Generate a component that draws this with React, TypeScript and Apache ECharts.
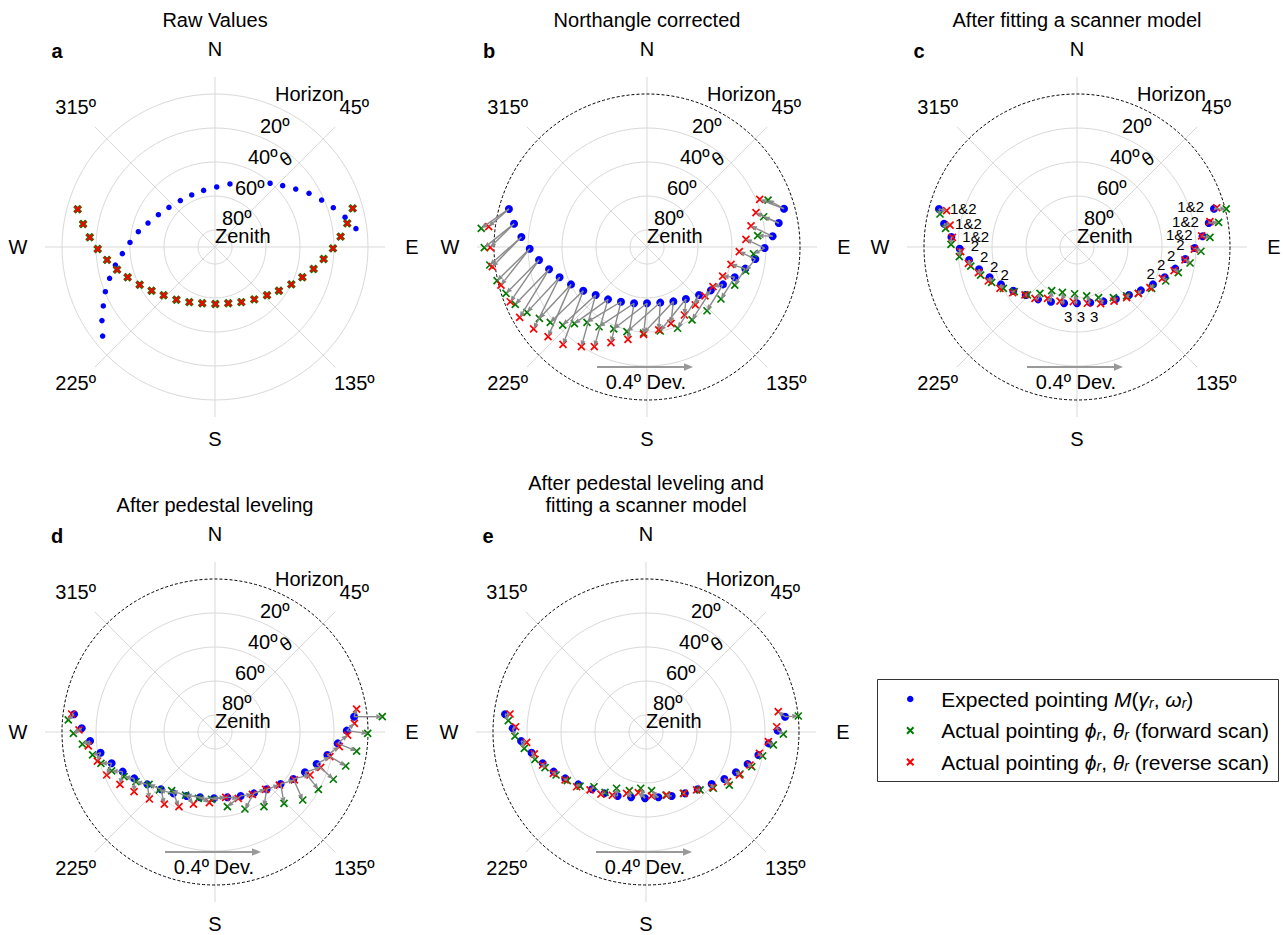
import React, { useEffect, useRef } from 'react';
import * as echarts from 'echarts';

// ---------------- DATA (projected zenith-angle components, degrees: [east, north]) ----------------
// Panel a – raw values
const rawExpected = [[-66.1,-52.4],[-66.5,-43.3],[-65.7,-34.7],[-64.5,-26.3],[-62.0,-18.4],[-58.6,-10.6],[-54.5,-3.9],[-50.0,2.7],[-45.1,9.0],[-39.4,14.1],[-33.3,19.0],[-27.1,23.3],[-20.4,27.3],[-13.7,30.6],[-6.7,33.3],[1.0,35.3],[8.8,37.1],[32.4,37.5],[39.8,36.1],[47.5,34.1],[55.3,31.6],[62.7,27.6],[69.6,23.1],[76.5,17.5],[82.9,10.8]];
const rawActual = [[-80.8,22.2],[-77.6,13.5],[-73.7,5.7],[-69.0,-1.2],[-63.5,-7.6],[-57.6,-13.3],[-51.4,-17.8],[-44.3,-22.2],[-37.3,-25.7],[-30.2,-28.4],[-22.7,-31.0],[-15.1,-32.4],[-7.5,-33.1],[0.2,-33.5],[7.8,-33.1],[15.5,-32.4],[23.1,-30.8],[30.6,-28.4],[37.6,-25.7],[44.9,-22.0],[51.4,-17.8],[58.0,-12.9],[63.9,-7.1],[69.4,-0.8],[73.9,6.1],[77.8,13.9],[81.0,22.7]];

// Panels b & c – expected pointing (north angle corrected)
const expectedB = [[-81.2,22.4],[-78.2,13.7],[-73.9,5.9],[-69.0,-1.0],[-63.5,-7.6],[-57.6,-13.1],[-51.4,-17.8],[-44.7,-22.0],[-37.5,-25.7],[-30.2,-28.2],[-22.9,-30.8],[-15.3,-32.2],[-7.6,-33.1],[0,-33.1],[7.8,-32.7],[15.5,-32.0],[22.9,-30.6],[30.6,-28.2],[37.6,-25.5],[44.7,-22.0],[51.6,-17.8],[57.8,-12.7],[63.7,-7.1],[69.2,-0.6],[73.9,6.3],[77.5,14.1],[80.6,22.5]];
const forwardB = [[-97.5,11.0],[-95.7,-0.4],[-92.5,-10.6],[-88.2,-19.8],[-82.9,-27.3],[-77.5,-33.7],[-70.6,-38.4],[-63.3,-42.0],[-56.9,-44.3],[-49.6,-45.9],[-42.7,-45.1],[-35.3,-44.3],[-28.2,-46.9],[-19.6,-48.2],[-11.8,-49.8],[-2.0,-50.6],[7.8,-49.4],[18.0,-47.8],[26.5,-42.9],[35.3,-37.5],[43.5,-30.6],[51.6,-22.4],[58.0,-14.1],[62.7,-4.1],[65.1,6.7],[68.6,17.8],[71.2,27.6]];
const reverseB = [[-93.1,12.0],[-92.2,-0.2],[-91.0,-11.6],[-85.9,-22.4],[-80.4,-32.2],[-74.9,-41.4],[-66.7,-48.2],[-58.2,-52.7],[-49.4,-57.3],[-38.6,-58.6],[-31.0,-58.6],[-21.2,-56.3],[-11.2,-54.3],[-2.0,-51.4],[6.9,-48.8],[14.1,-44.9],[22.0,-40.0],[28.4,-34.1],[34.1,-28.8],[38.8,-23.3],[44.5,-17.1],[49.4,-10.2],[54.3,-2.7],[58.2,4.5],[61.2,12.4],[64.1,20.2],[66.3,28.0]];
const forwardC = [[-80.6,19.4],[-77.3,11.0],[-74.1,1.6],[-69.2,-5.7],[-62.5,-11.2],[-56.7,-16.5],[-50.2,-20.8],[-43.3,-24.3],[-36.9,-26.3],[-29.2,-28.2],[-21.8,-27.3],[-14.9,-25.7],[-8.6,-26.7],[-1.4,-27.5],[5.7,-28.8],[12.7,-29.8],[21.4,-29.8],[29.2,-28.8],[36.1,-27.3],[43.9,-24.3],[52.2,-20.0],[59.6,-15.1],[66.5,-9.4],[72.9,-2.5],[78.2,5.7],[83.3,14.5],[87.8,22.4]];
const reverseC = [[-76.7,21.4],[-74.7,12.9],[-73.3,5.7],[-68.4,-2.7],[-63.9,-9.6],[-58.0,-15.1],[-52.2,-20.0],[-45.3,-24.3],[-37.8,-26.9],[-30.6,-28.2],[-24.7,-30.2],[-17.3,-30.2],[-10.0,-31.8],[-2.2,-32.2],[6.1,-33.1],[13.9,-33.3],[21.8,-31.8],[29.2,-29.8],[36.1,-27.3],[42.9,-23.9],[50.2,-18.4],[57.1,-13.9],[63.5,-7.6],[69.0,-1.2],[73.3,6.5],[78.2,14.9],[82.2,23.1]];
const annotationsC = ['1&2','1&2','1&2','2','2','2','2','','','','','','3','3','3','','','','','','2','2','2','2','1&2','1&2','1&2'];

// Panels d & e – after pedestal leveling
const expectedD = [[-82.9,10.4],[-78.4,2.2],[-73.5,-5.3],[-67.3,-12.2],[-60.8,-18.4],[-54.3,-23.3],[-47.5,-27.3],[-39.8,-30.8],[-31.8,-33.7],[-24.5,-36.1],[-16.7,-37.6],[-8.8,-38.4],[-0.6,-39.0],[7.3,-38.4],[15.1,-37.6],[22.9,-36.1],[30.4,-33.7],[38.6,-30.6],[46.1,-27.6],[52.9,-23.7],[59.8,-18.8],[66.1,-13.5],[72.2,-6.7],[77.5,0.8],[81.8,9.0]];
const forwardD = [[-86.3,7.1],[-83.3,-0.8],[-78.0,-7.1],[-72.0,-13.5],[-67.1,-18.4],[-60.8,-22.9],[-53.5,-26.3],[-46.5,-29.2],[-38.8,-30.8],[-32.7,-34.1],[-25.5,-34.5],[-17.3,-37.1],[-9.8,-39.0],[-2.0,-39.6],[7.3,-43.9],[17.6,-45.3],[28.8,-43.9],[40.6,-42.0],[51.6,-40.0],[60.8,-33.7],[69.6,-27.8],[76.9,-20.0],[83.3,-11.2],[89.8,-0.8],[98.4,9.0]];
const reverseD = [[-84.3,10.6],[-80.0,1.2],[-74.5,-8.2],[-69.2,-17.1],[-63.7,-25.3],[-55.9,-30.8],[-47.6,-35.1],[-38.6,-39.4],[-29.8,-42.4],[-21.2,-43.9],[-12.7,-42.4],[-3.3,-41.6],[6.3,-38.4],[13.7,-39.0],[22.0,-36.7],[29.8,-33.7],[37.8,-31.2],[46.7,-28.2],[55.9,-25.3],[62.2,-20.8],[67.6,-14.5],[73.1,-8.6],[78.0,-1.8],[82.0,5.1],[83.3,13.5]];
const forwardE = [[-81.0,6.7],[-77.1,-2.4],[-71.6,-9.6],[-65.3,-16.1],[-59.4,-21.0],[-52.9,-25.3],[-46.3,-28.6],[-38.8,-31.8],[-30.6,-32.2],[-24.1,-35.5],[-17.3,-33.1],[-9.8,-34.5],[-3.1,-33.1],[3.3,-34.5],[11.8,-37.1],[22.0,-36.1],[31.8,-34.1],[39.6,-33.1],[49.0,-31.2],[55.3,-24.7],[62.2,-20.4],[68.6,-14.1],[74.9,-7.6],[80.8,-1.2],[89.6,9.4]];
const reverseE = [[-80.0,10.6],[-76.7,3.1],[-70.2,-6.1],[-65.7,-12.9],[-60.8,-19.4],[-54.5,-24.3],[-47.6,-28.2],[-40.8,-32.2],[-32.9,-34.1],[-26.5,-36.5],[-19.8,-37.1],[-11.4,-36.1],[-4.5,-35.7],[3.3,-37.6],[12.2,-37.1],[22.4,-36.1],[29.8,-34.1],[39.2,-32.5],[48.0,-29.2],[54.9,-25.3],[61.2,-19.4],[66.7,-12.5],[72.0,-5.7],[76.9,3.1],[77.8,12.0]];

// Texts
const PANEL_TITLES = [['Raw Values'], ['Northangle corrected'], ['After fitting a scanner model'], ['After pedestal leveling'], ['After pedestal leveling and', 'fitting a scanner model']];
const PANEL_LETTERS = ['a', 'b', 'c', 'd', 'e'];
const COMPASS_LABELS = ['N', '45º', 'E', '135º', 'S', '225º', 'W', '315º'];
const COMPASS_ANGLES = [0, 45, 90, 135, 180, 225, 270, 315];
const RING_LABELS = ['Horizon', '20º', '40º', '60º', '80º', 'Zenith'];
const SCALE_LABEL = '0.4º Dev.';
const LEGEND_NAMES = ['Expected pointing M(γr, ωr)', 'Actual pointing ϕr, θr (forward scan)', 'Actual pointing ϕr, θr (reverse scan)'];
const LEGEND_RICH = [
  'Expected pointing {i|M}({i|γ}{s|r}, {i|ω}{s|r})',
  'Actual pointing {i|ϕ}{s|r}, {i|θ}{s|r} (forward scan)',
  'Actual pointing {i|ϕ}{s|r}, {i|θ}{s|r} (reverse scan)',
];

// ---------------- LAYOUT / STYLE ----------------
const FONT = '"Liberation Sans", Arial, Helvetica, "DejaVu Sans", sans-serif';
const BLUE = '#0000ff';
const GREEN = '#007a00';
const RED = '#ff0000';
const GRID = '#d9d9d9';
const ARROW = '#8a8a8a';
const R_PX = 170;
const ZA_MAX = 100;
const HORIZON_ZA = 90;
const CENTERS = [[215, 247], [647, 247], [1077, 247], [215, 732], [646, 732]];
const RING_LABEL_POS = [[60, -153.5], [45, -121], [33, -90], [20, -59], [7, -29], [0, -11]];
const XPATH = 'path://M0,0L10,10M10,0L0,10';

const PANELS = [
  { expected: rawExpected, forward: rawActual, reverse: rawActual, raw: true },
  { expected: expectedB, forward: forwardB, reverse: reverseB, raw: false },
  { expected: expectedB, forward: forwardC, reverse: reverseC, raw: false, notes: annotationsC },
  { expected: expectedD, forward: forwardD, reverse: reverseD, raw: false },
  { expected: expectedD, forward: forwardE, reverse: reverseE, raw: false },
];

const toPolar = (p: number[]) => {
  const r = Math.hypot(p[0], p[1]);
  let a = (Math.atan2(p[0], p[1]) * 180) / Math.PI;
  if (a < 0) a += 360;
  return [r, a];
};

const ringColors = (hideHorizon: boolean) =>
  Array.from({ length: 11 }, (_, k) => (k % 2 === 1 && !(hideHorizon && k === 9) ? GRID : 'rgba(0,0,0,0)'));

function arrowItem(params: any, api: any) {
  const p1 = api.coord([api.value(0), api.value(1)]);
  const p2 = api.coord([api.value(2), api.value(3)]);
  const dx = p2[0] - p1[0];
  const dy = p2[1] - p1[1];
  const len = Math.hypot(dx, dy);
  if (len < 0.5) return null;
  const ux = dx / len;
  const uy = dy / len;
  const hl = Math.min(6, len * 0.6);
  const hw = 2.5;
  const bx = p2[0] - ux * hl;
  const by = p2[1] - uy * hl;
  return {
    type: 'group',
    children: [
      { type: 'line', shape: { x1: p1[0], y1: p1[1], x2: bx, y2: by }, style: { stroke: ARROW, lineWidth: 1.4 } },
      { type: 'polygon', shape: { points: [[p2[0], p2[1]], [bx - uy * hw, by + ux * hw], [bx + uy * hw, by - ux * hw]] }, style: { fill: ARROW } },
    ],
  };
}

function buildOption() {
  const polar = CENTERS.map((c) => ({ center: c, radius: R_PX }));
  const angleAxis = CENTERS.map((_, i) => ({
    polarIndex: i, type: 'value', min: 0, max: 360, interval: 45, startAngle: 90, clockwise: true,
    axisLine: { show: false }, axisTick: { show: false }, axisLabel: { show: false },
    splitLine: { show: true, lineStyle: { color: GRID, width: 1 } },
  }));
  const radiusAxis = PANELS.map((p, i) => ({
    polarIndex: i, type: 'value', min: 0, max: ZA_MAX, interval: 10,
    axisLine: { show: false }, axisTick: { show: false }, axisLabel: { show: false },
    splitLine: { show: true, lineStyle: { color: ringColors(!p.raw), width: 1 } },
  }));

  const series: any[] = [];
  PANELS.forEach((p, i) => {
    series.push({
      type: 'scatter', name: LEGEND_NAMES[0], coordinateSystem: 'polar', polarIndex: i, silent: true, z: 2,
      symbol: 'circle', symbolSize: p.raw ? 5.5 : 8, itemStyle: { color: BLUE, opacity: 1 },
      data: p.expected.map(toPolar),
    });
    series.push({
      type: 'scatter', name: LEGEND_NAMES[1], coordinateSystem: 'polar', polarIndex: i, silent: true, z: 3,
      symbol: XPATH, symbolSize: p.raw ? 6.5 : 7,
      itemStyle: { color: GREEN, borderColor: GREEN, borderWidth: p.raw ? 3.4 : 1.7, opacity: 1 },
      data: p.forward.map(toPolar),
    });
    series.push({
      type: 'scatter', name: LEGEND_NAMES[2], coordinateSystem: 'polar', polarIndex: i, silent: true, z: 4,
      symbol: XPATH, symbolSize: p.raw ? 6 : 7,
      itemStyle: { color: RED, borderColor: RED, borderWidth: p.raw ? 1.9 : 1.7, opacity: 1 },
      data: p.reverse.map(toPolar),
    });
    if (!p.raw) {
      const arrows = [
        ...p.expected.map((e, k) => [...toPolar(e), ...toPolar(p.forward[k])]),
        ...p.expected.map((e, k) => [...toPolar(e), ...toPolar(p.reverse[k])]),
      ];
      series.push({
        type: 'custom', coordinateSystem: 'polar', polarIndex: i, silent: true, z: 5,
        renderItem: arrowItem, data: arrows,
      });
    }
    if (p.notes) {
      const data: any[] = [];
      p.notes.forEach((t, k) => {
        if (!t) return;
        const pt = p.expected[k];
        let label: any;
        if (t === '3') label = { position: 'bottom', distance: 6, offset: [4, 0] };
        else if (pt[0] < 0) label = { position: 'right', distance: 10, offset: [0, t === '2' ? -3 : 0] };
        else label = { position: 'left', distance: 9, offset: [0, t === '2' ? -4 : -2] };
        data.push({ value: toPolar(pt), label: { show: true, formatter: t, ...label } });
      });
      series.push({
        type: 'scatter', coordinateSystem: 'polar', polarIndex: i, silent: true, z: 6,
        symbolSize: 2, itemStyle: { color: 'rgba(0,0,0,0)', opacity: 1 },
        label: { show: true, color: '#000', opacity: 1, fontSize: 15, fontFamily: FONT, lineHeight: 13 },
        data,
      });
    }
  });

  const graphic: any[] = [];
  const txt = (x: number, y: number, text: string, extra: any = {}) => ({
    type: 'text', x, y, silent: true, z: 20,
    style: { text, fontFamily: FONT, fontSize: 20, fill: '#000', align: 'center', verticalAlign: 'middle', ...extra },
  });
  CENTERS.forEach(([cx, cy], i) => {
    const lines = PANEL_TITLES[i];
    lines.forEach((t, k) => graphic.push(txt(cx, cy - 227 - (lines.length - 1 - k) * 22, t)));
    graphic.push(txt(cx - 158, cy - 196, PANEL_LETTERS[i], { fontWeight: 'bold' }));
    COMPASS_LABELS.forEach((t, k) => {
      const a = (COMPASS_ANGLES[k] * Math.PI) / 180;
      const c = Math.cos(a);
      const ry = c > 0 ? 198 : 192;
      graphic.push(txt(cx + 197 * Math.sin(a), cy - ry * c, t));
    });
    RING_LABELS.forEach((t, k) => graphic.push(txt(cx + RING_LABEL_POS[k][0], cy + RING_LABEL_POS[k][1], t, { align: 'left' })));
    graphic.push({ type: 'text', x: cx + 71, y: cy - 88, rotation: 0.6, silent: true, z: 20,
      style: { text: 'θ', fontFamily: FONT, fontSize: 19, fill: '#000', align: 'center', verticalAlign: 'middle' } });
    if (!PANELS[i].raw) {
      graphic.push({ type: 'circle', silent: true, z: 1, shape: { cx, cy, r: (HORIZON_ZA / ZA_MAX) * R_PX },
        style: { fill: 'none', stroke: '#000', lineWidth: 1, lineDash: [3, 2] } });
      graphic.push({ type: 'line', silent: true, z: 20, shape: { x1: cx - 50, y1: cy + 120, x2: cx + 38, y2: cy + 120 },
        style: { stroke: '#999', lineWidth: 2 } });
      graphic.push({ type: 'polygon', silent: true, z: 20, shape: { points: [[cx + 46, cy + 120], [cx + 37, cy + 116.3], [cx + 37, cy + 123.7]] },
        style: { fill: '#999' } });
      graphic.push(txt(cx - 1, cy + 134.5, SCALE_LABEL));
    }
  });
  graphic.push({ type: 'rect', silent: true, z: 20, shape: { x: 877.5, y: 679.5, width: 401, height: 102 },
    style: { fill: 'none', stroke: '#333', lineWidth: 1 } });

  return {
    animation: false,
    backgroundColor: '#fff',
    polar, angleAxis, radiusAxis, series, graphic,
    legend: {
      orient: 'vertical', left: 906, top: 688, padding: 0, itemWidth: 52, itemHeight: 6.5, itemGap: 9.5,
      selectedMode: false,
      data: [
        { name: LEGEND_NAMES[0], icon: 'circle', itemStyle: { color: BLUE, borderWidth: 0, opacity: 1 } },
        { name: LEGEND_NAMES[1], icon: XPATH, itemStyle: { color: GREEN, borderColor: GREEN, borderWidth: 2, opacity: 1 } },
        { name: LEGEND_NAMES[2], icon: XPATH, itemStyle: { color: RED, borderColor: RED, borderWidth: 2, opacity: 1 } },
      ],
      formatter: (name: string) => LEGEND_RICH[LEGEND_NAMES.indexOf(name)],
      textStyle: {
        fontFamily: FONT, fontSize: 21, color: '#000', lineHeight: 22,
        rich: {
          i: { fontStyle: 'italic', fontFamily: FONT, fontSize: 21, lineHeight: 22, color: '#000' },
          s: { fontStyle: 'italic', fontFamily: FONT, fontSize: 14, lineHeight: 14, verticalAlign: 'bottom', color: '#000' },
        },
      },
    },
  };
}

export default function App() {
  const ref = useRef<HTMLDivElement>(null);
  useEffect(() => {
    const chart = echarts.init(ref.current as HTMLDivElement, null, { renderer: 'svg' });
    chart.setOption(buildOption() as any);
    return () => chart.dispose();
  }, []);
  return <div ref={ref} style={{ position: 'absolute', left: 0, top: 0, width: 1283, height: 935, background: '#fff' }} />;
}
